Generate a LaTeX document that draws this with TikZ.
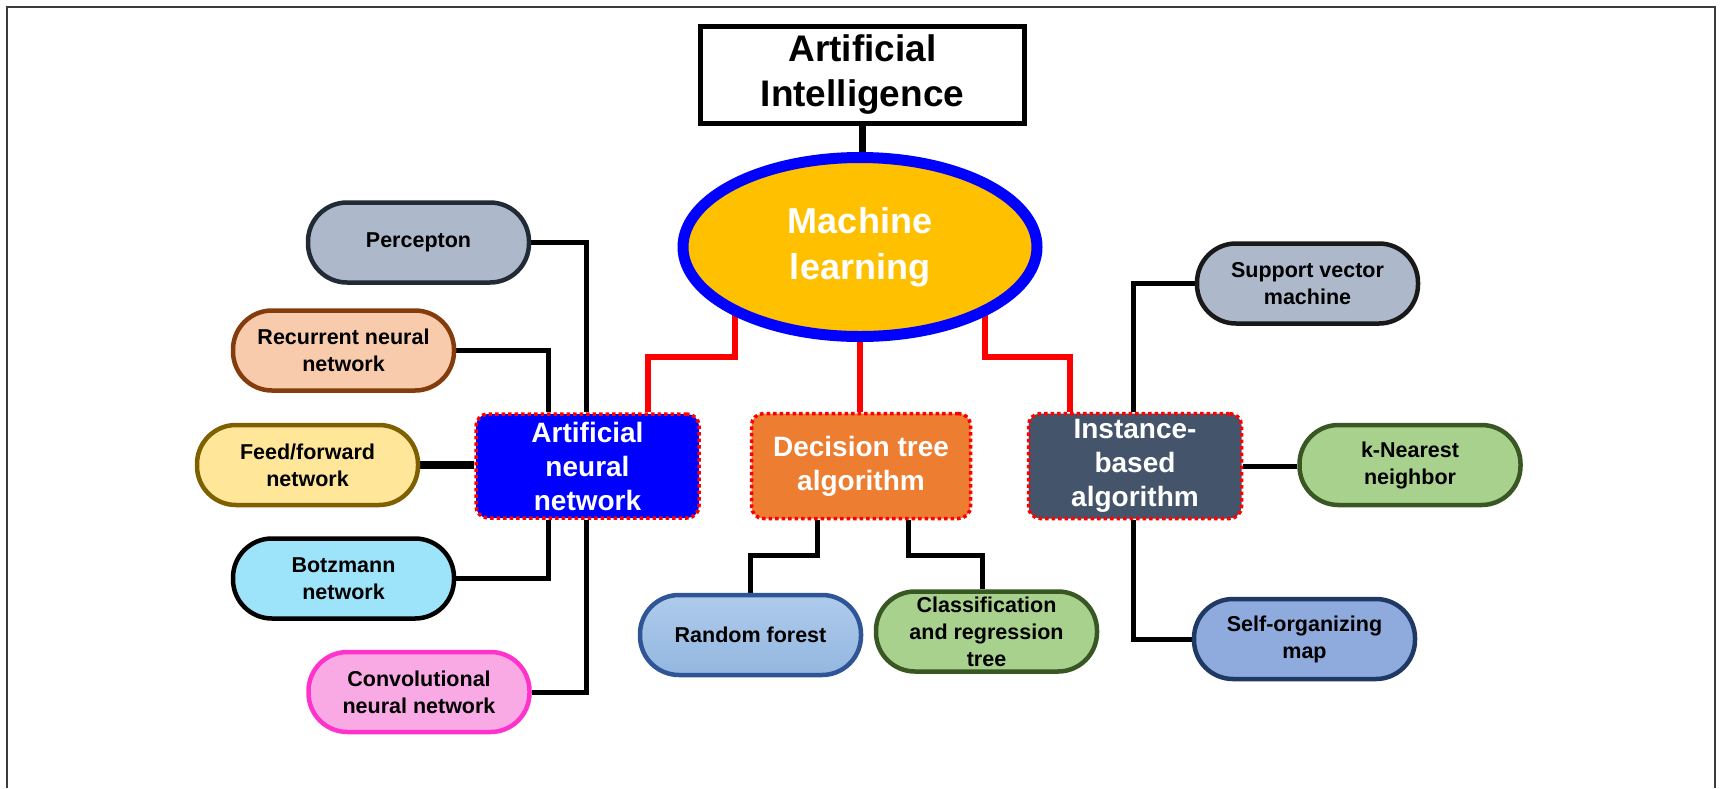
\documentclass[tikz,border=0pt]{standalone}
\usepackage{fontspec}
\setmainfont{Liberation Sans}
\usetikzlibrary{backgrounds,shapes.geometric}

\definecolor{frameGray}{HTML}{3C3C3C}
\definecolor{mlFill}{HTML}{FFC000}
\definecolor{mlRing}{HTML}{0000FF}
\definecolor{annFill}{HTML}{0000FF}
\definecolor{dtFill}{HTML}{ED7D31}
\definecolor{ibFill}{HTML}{44546A}
\definecolor{slateFill}{HTML}{ADB9CA}
\definecolor{slateLine}{HTML}{222A35}
\definecolor{peachFill}{HTML}{F8CBAD}
\definecolor{peachLine}{HTML}{843C0C}
\definecolor{sandFill}{HTML}{FFE699}
\definecolor{sandLine}{HTML}{7F6000}
\definecolor{skyFill}{HTML}{9DE3FA}
\definecolor{pinkFill}{HTML}{F9A9E3}
\definecolor{pinkLine}{HTML}{FF33CC}
\definecolor{blueTop}{HTML}{AECBEB}
\definecolor{blueBot}{HTML}{94B7E0}
\definecolor{blueLine}{HTML}{2F5597}
\definecolor{greenFill}{HTML}{A9D18E}
\definecolor{greenLine}{HTML}{385723}
\definecolor{somFill}{HTML}{8FAADC}
\definecolor{somLine}{HTML}{203864}
\definecolor{wireRed}{HTML}{FF0000}

\newcommand\leaffont{\fontsize{21.5}{27}\selectfont\bfseries}
\newcommand\catfont{\fontsize{28}{34}\selectfont\bfseries}

\begin{document}
\begin{tikzpicture}[x=1pt,y=-1pt,
  leaf/.style={draw, line width=4.5pt, rounded corners=39pt,
    minimum width=221pt, minimum height=80pt, inner sep=0pt,
    align=center, font=\leaffont, text=black},
  category/.style={draw=red, line width=3.5pt, dash pattern=on 3.5pt off 3pt,
    rounded corners=12pt, inner sep=0pt, align=center,
    font=\catfont, text=white},
  wire/.style={draw=black, line width=5pt},
  heavywire/.style={draw=black, line width=8pt},
  redwire/.style={draw=wireRed, line width=6pt},
  frameline/.style={draw=frameGray, line width=2.5pt}
]
\useasboundingbox (0,0) rectangle (1720,788);

% outer frame, open at the bottom
\draw[frameline] (7,788) -- (7,7) -- (1715,7) -- (1715,788);

% root and main ellipse
\node[draw, line width=5pt, minimum width=324pt, minimum height=97pt,
      inner sep=0pt, align=center,
      font=\fontsize{37}{45}\selectfont\bfseries] (ai) at (862.5,75)
      {Artificial\\Intelligence};
\node[ellipse, draw=mlRing, fill=mlFill, line width=11pt,
      minimum width=354pt, minimum height=179pt, inner sep=0pt,
      align=center, text=white,
      font=\fontsize{36}{46}\selectfont\bfseries] (ml) at (860,247)
      {Machine\\learning};

% algorithm families
\node[category, fill=annFill, minimum width=223pt, minimum height=104pt]
      (ann) at (587.5,466) {Artificial\\neural\\network};
\node[category, fill=dtFill, minimum width=219pt, minimum height=105pt]
      (dt) at (861,466) {Decision tree\\algorithm};
\node[category, fill=ibFill, minimum width=213pt, minimum height=105pt]
      (ib) at (1135,466) {Instance-\\based\\algorithm};

% neural network leaves
\node[leaf, fill=slateFill, draw=slateLine] (perc) at (418.5,242.5) {Percepton};
\node[leaf, fill=peachFill, draw=peachLine] (rnn) at (343.5,350.5) {Recurrent neural\\network};
\node[leaf, fill=sandFill, draw=sandLine] (ffn) at (307.5,465) {Feed/forward\\network};
\node[leaf, fill=skyFill, draw=black] (bm) at (343.5,578.5) {Botzmann\\network};
\node[leaf, fill=pinkFill, draw=pinkLine] (conv) at (419,692) {Convolutional\\neural network};

% decision tree leaves
\node[leaf, top color=blueTop, bottom color=blueBot, draw=blueLine] (rf) at (750.5,635) {Random forest};
\node[leaf, fill=greenFill, draw=greenLine] (cart) at (986.5,631.5) {Classification\\and regression\\tree};

% instance-based leaves
\node[leaf, fill=slateFill, draw=black!90] (svm) at (1307.5,283.5) {Support vector\\machine};
\node[leaf, fill=greenFill, draw=greenLine] (knn) at (1410,465) {k-Nearest\\neighbor};
\node[leaf, fill=somFill, draw=somLine] (som) at (1304.5,639) {Self-organizing\\map};

\begin{pgfonlayer}{background}
  % root to machine learning
  \draw[wire, line width=7pt] (ai.south) -- (ai.south |- ml.center);

  % machine learning to the three families
  \draw[redwire] ([xshift=-125pt]ml.center) |- ([xshift=60pt,yshift=55pt]ann.north)
                 -- ([xshift=60pt]ann.north);
  \draw[redwire] (ml.center) -- (ml.center |- dt.north);
  \draw[redwire] ([xshift=125pt]ml.center) |- ([xshift=-65pt,yshift=55pt]ib.north)
                 -- ([xshift=-65pt]ib.north);

  % neural network branches
  \draw[wire] (perc.east) -| ([xshift=-1pt]ann.north);
  \draw[wire] (rnn.east) -| ([xshift=-39pt]ann.north);
  \draw[heavywire] (ffn.east) -- (ffn.east -| ann.west);
  \draw[wire] ([xshift=-39pt]ann.south) |- (bm.east);
  \draw[wire] ([xshift=-1pt]ann.south) |- (conv.east);

  % decision tree branches
  \draw[wire] ([xshift=-44pt]dt.south) -- ++(0pt,-35pt) -| (rf.north);
  \draw[wire] ([xshift=47pt]dt.south) -- ++(0pt,-35pt) -| ([xshift=-4pt]cart.north);

  % instance-based branches
  \draw[wire] ([xshift=-2pt]ib.north) |- (svm.west);
  \draw[wire] (ib.east) -- (ib.east -| knn.west);
  \draw[wire] ([xshift=-2pt]ib.south) |- (som.west);
\end{pgfonlayer}
\end{tikzpicture}
\end{document}
